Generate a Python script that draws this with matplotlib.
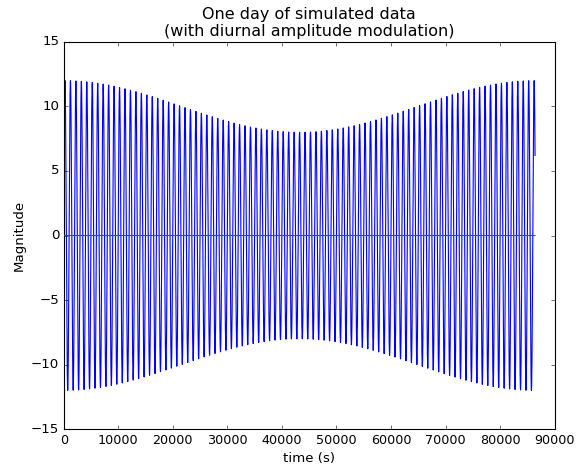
"""One day of simulated data with diurnal amplitude modulation."""

import matplotlib
matplotlib.use("Agg")
import matplotlib.pyplot as plt
import numpy as np

# signal parameters
DAY_S = 86400          # length of record (s)
SAMPLE_S = 10          # sampling step (s)
PERIOD_S = 1000        # oscillation period (s)
PHASE_RAD = 0.085      # phase offset so the trace ends near 6.2
MEAN_AMP = 10.0        # envelope mid level
MOD_AMP = 2.0          # envelope swing (12 at midnight, 8 at noon)

X_TICKS = [0, 10000, 20000, 30000, 40000, 50000, 60000, 70000, 80000, 90000]
Y_TICKS = [-15, -10, -5, 0, 5, 10, 15]

t = np.arange(0, DAY_S + SAMPLE_S, SAMPLE_S)
envelope = MEAN_AMP + MOD_AMP * np.cos(2 * np.pi * t / DAY_S)
signal = envelope * np.sin(2 * np.pi * t / PERIOD_S + PHASE_RAD)

plt.style.use("classic")
DPI = 80
fig = plt.figure(figsize=(579 / DPI, 465 / DPI), dpi=DPI, facecolor="white")
ax = fig.add_axes([0.110, 0.077, 0.848, 0.833])

ax.plot(t, signal, "b-", zorder=2)
ax.plot(t, np.zeros_like(t), "g-", zorder=3)

ax.set_xlim(0, 90000)
ax.set_ylim(-15, 15)
ax.set_xticks(X_TICKS)
ax.set_yticks(Y_TICKS)
ax.tick_params(axis="x", labelsize=11.5)
ax.set_xlabel("time (s)")
ax.set_ylabel("Magnitude")
ax.set_title("One day of simulated data\n(with diurnal amplitude modulation)")

fig.savefig("out.png", dpi=DPI, facecolor="white")
